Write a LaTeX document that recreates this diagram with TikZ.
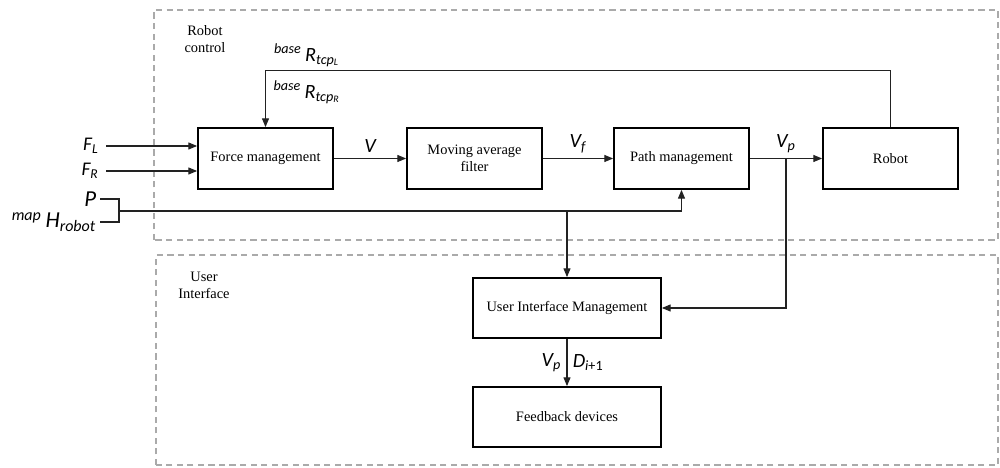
\documentclass[tikz,border=0pt]{standalone}
\usepackage{fontspec}
\setmainfont{Liberation Serif}
\newfontfamily\symfont{Carlito}
\usetikzlibrary{arrows.meta, positioning, calc}
\definecolor{zonegray}{HTML}{AAAAAA}
\definecolor{wiregray}{HTML}{222222}

\begin{document}
\begin{tikzpicture}[>={Triangle[length=5pt,width=4pt]},
  block/.style={draw, line width=1pt, minimum width=2.7cm,
    minimum height=1.22cm, align=center,
    font=\fontsize{8.2}{9.8}\selectfont},
  wide/.style={block, minimum width=3.76cm, minimum height=1.2cm},
  zone/.style={draw=zonegray, dash pattern=on 3.5pt off 2.5pt, line width=0.6pt},
  wire/.style={draw=wiregray, line width=0.6pt},
  sym/.style={font=\fontsize{11.5}{13}\symfont\itshape, inner sep=1pt},
  input/.style={sym, anchor=east, inner xsep=4pt},
  zonetitle/.style={align=center, font=\fontsize{8.2}{9.8}\selectfont}
]
  \useasboundingbox (0,0) rectangle (20,9.36);

  % Zones
  \draw[zone] (3.08,4.56) rectangle (19.96,9.16);
  \draw[zone] (3.12,0.06) rectangle (19.96,4.26);
  \node[zonetitle] (rctitle) at (4.1,8.58) {Robot\\control};
  \node[zonetitle] (uititle) at (4.08,3.66) {User\\Interface};

  % Blocks
  \node[block] (force) at (5.31,6.19) {Force management};
  \node[block] (filter) at (9.49,6.19) {Moving average\\filter};
  \node[block] (path) at (13.63,6.19) {Path management};
  \node[block] (robot) at (17.81,6.19) {Robot};
  \node[wide] (uim) at (11.34,3.2) {User Interface Management};
  \node[wide] (feedback) at (11.34,1.02) {Feedback devices};

  % Inputs
  \node[input, font=\fontsize{11}{13}\symfont\itshape] (fl) at (2.12,6.44)
    {F\textsubscript{L}};
  \node[input, font=\fontsize{11}{13}\symfont\itshape] (fr) at (2.12,5.94)
    {F\textsubscript{R}};
  \node[input, inner xsep=2pt, font=\fontsize{13}{15}\symfont\itshape] (pin)
    at (2.0,5.38) {P};
  \node[input, inner xsep=2pt, font=\fontsize{13}{15}\symfont\itshape] (hin)
    at (2.0,4.92) {\textsuperscript{map}\,H\textsubscript{robot}};
  \coordinate (join) at (2.38,5.14);

  \draw[wire,->] (fl.east) -- (fl.east -| force.west);
  \draw[wire,->] (fr.east) -- (fr.east -| force.west);
  \draw[wire] (pin.east) -| (join) |- (hin.east);
  \draw[wire,->] (join) -| (path.south);
  \draw[wire,->] (join -| uim.north) -- (uim.north);

  % Main chain
  \draw[wire,->] (force) -- node[sym, above=2pt] (vlbl) {V} (filter);
  \draw[wire,->] (filter) -- node[sym, above=2pt] (vflbl) {V\textsubscript{f}} (path);
  \draw[wire,->] (path) -- node[sym, above=2pt] (vplbl) {V\textsubscript{p}}
    coordinate[pos=0.5] (vpsplit) (robot);
  \draw[wire,->] (vpsplit) |- (uim.east);

  % Feedback from robot
  \draw[wire,->] (robot.north) -- ++(0,1.14) coordinate (fbtop) -| (force.north);
  \node[sym] (rleft) at (6.14,8.26)
    {\textsuperscript{base}\,R\textsubscript{tcp\textsubscript{L}}};
  \node[sym] (rright) at (6.14,7.52)
    {\textsuperscript{base}\,R\textsubscript{tcp\textsubscript{R}}};

  % To feedback devices
  \draw[wire,->] (uim) -- node[sym, left=2pt] (vpdown) {V\textsubscript{p}}
    node[sym, right=2pt] (dnext) {D\textsubscript{i\textup{+1}}} (feedback);
\end{tikzpicture}
\end{document}
